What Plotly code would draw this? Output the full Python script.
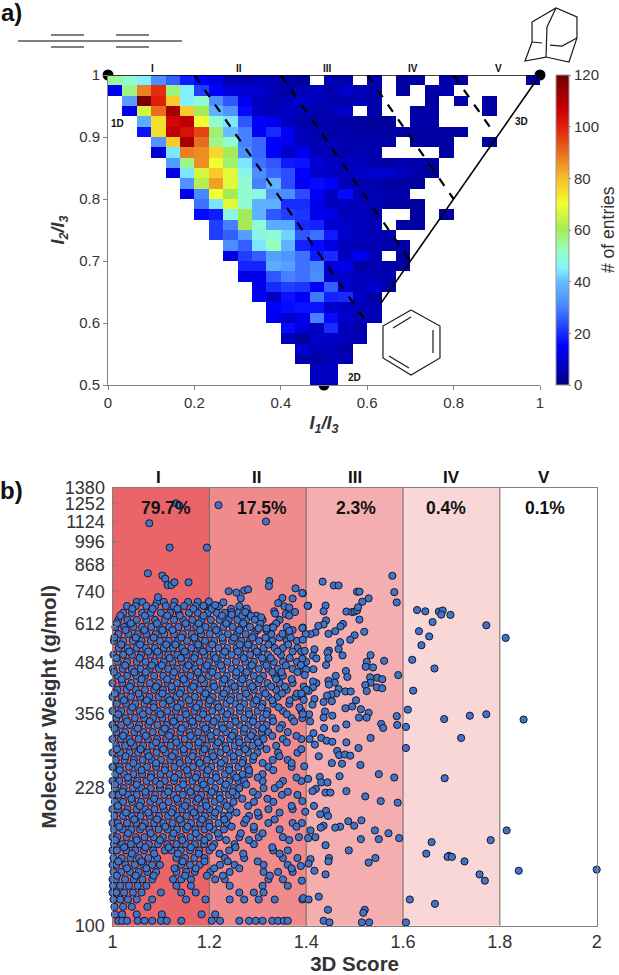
"""
plot.py - PMI triangle heat map (a) and 3D score vs molecular weight scatter (b).
"""

import plotly.graph_objects as go

W, H = 619, 975
N = None

# --- panel a data: entries per bin, top row first, 30 x 30 bins ---
heat_rows = [
    [55, 50, 45, 32, 26, 18, 15, 12, 5, 5, 7, 6, 4, 3, N, 6, 5, N, 6, N, 3, 4, N, 5, 4, N, N, N, N, 3],
    [14, 56, 88, 98, 57, 45, 22, 15, 11, 10, 9, 6, 4, 6, 7, 5, 9, 6, 5, N, 4, N, 4, 5],
    [N, 35, 118, 100, 78, 45, 50, 32, 25, 13, 7, 6, 7, 9, 7, 5, 5, 6, 5, N, N, N, 4, N, 5, N, 4],
    [N, 13, 66, 90, 112, 78, 60, 38, 33, 16, 8, 6, 9, 6, 5, 6, 9, N, 5, N, N, 4, 5, N, N, N, 4],
    [N, N, 37, 75, 105, 108, 70, 50, 44, 25, 15, 13, 7, 5, 5, 5, 4, 4, 3, 3, N, 5, 4],
    [N, N, 17, 75, 108, 103, 95, 58, 40, 30, 14, 20, 14, 7, 5, 4, 5, 4, 4, 4, 4, 4, 4, 4, 4],
    [N, N, N, 33, 78, 112, 90, 56, 50, 30, 27, 15, 13, 7, 6, 6, 5, 5, 5, 5, N, 5, 4, 4, N, N, 4],
    [N, N, N, 10, 44, 88, 86, 76, 60, 32, 27, 15, 8, 13, 7, 6, 5, 6, 5, N, N, N, N, 4],
    [N, N, N, N, 34, 56, 86, 70, 58, 44, 28, 25, 18, 17, 10, 8, 7, 7, 5, 4, 5, 5, 4],
    [N, N, N, N, 12, 44, 66, 78, 68, 48, 32, 27, 24, 15, 9, 8, 7, 8, 10, 9, 7, 5, 3],
    [N, N, N, N, N, 33, 62, 84, 68, 50, 30, 38, 24, 14, 16, 15, 6, 6, 5, 4, 4, 3],
    [N, N, N, N, N, 13, 31, 70, 60, 50, 48, 33, 32, 24, 14, 8, 16, 6, 6, 5, 5],
    [N, N, N, N, N, N, 28, 44, 68, 50, 38, 38, 20, 20, 13, 8, 8, 7, 6, 4, 4, 3],
    [N, N, N, N, N, N, 16, 18, 48, 60, 38, 25, 22, 21, 13, 12, 7, 7, 5, N, N, 4, N, 4],
    [N, N, N, N, N, N, N, 22, 30, 60, 50, 37, 37, 20, 19, 9, 9, 7, 6, N, 4, 4],
    [N, N, N, N, N, N, N, 22, 26, 35, 47, 50, 42, 25, 28, 18, 9, 7, 6, 5],
    [N, N, N, N, N, N, N, N, 32, 26, 44, 52, 38, 19, 16, 12, 7, 6, 6, 5, 4],
    [N, N, N, N, N, N, N, N, 12, 22, 26, 35, 33, 28, 18, 20, 8, 14, 7, N, 4],
    [N, N, N, N, N, N, N, N, N, 19, 19, 37, 35, 28, 31, 10, 13, 4, 6, 5, 4],
    [N, N, N, N, N, N, N, N, N, 13, 12, 25, 30, 28, 32, 9, 9, 7, 6, 5],
    [N, N, N, N, N, N, N, N, N, N, 13, 20, 22, 21, 15, 26, 10, 7, 9, 5],
    [N, N, N, N, N, N, N, N, N, N, 15, 8, 17, 14, 29, 19, 20, 8, 4],
    [N, N, N, N, N, N, N, N, N, N, N, 15, 16, 17, 17, 9, 8, 6, 6],
    [N, N, N, N, N, N, N, N, N, N, N, 13, 9, 12, 30, 16, 9, 6, 6],
    [N, N, N, N, N, N, N, N, N, N, N, N, 16, 11, 8, 20, 7, 5],
    [N, N, N, N, N, N, N, N, N, N, N, N, 6, 3, 9, 8, 7, 6],
    [N, N, N, N, N, N, N, N, N, N, N, N, N, 10, 7, 7, 4],
    [N, N, N, N, N, N, N, N, N, N, N, N, N, 5, 4, 6, 6],
    [N, N, N, N, N, N, N, N, N, N, N, N, N, N, 8, 8],
    [N, N, N, N, N, N, N, N, N, N, N, N, N, N, 8, 8],
]
jet_scale = [
    [0.0, "rgb(0,0,130)"], [0.125, "rgb(0,0,255)"], [0.25, "rgb(70,130,255)"],
    [0.333, "rgb(100,190,255)"], [0.375, "rgb(130,240,255)"], [0.433, "rgb(150,255,190)"],
    [0.5, "rgb(165,235,85)"], [0.583, "rgb(240,255,50)"], [0.667, "rgb(250,190,40)"],
    [0.75, "rgb(230,110,30)"], [0.833, "rgb(225,30,10)"], [0.89, "rgb(200,0,0)"],
    [1.0, "rgb(110,0,0)"],
]
vertex_x = [0, 1, 0.5]
vertex_y = [1, 1, 0.5]
rod_sphere_x = [1, 0.63]
rod_sphere_y = [1, 0.63]
class_lines_x = [[0.2, 0.6], [0.4, 0.7], [0.6, 0.8], [0.8, 0.885]]
class_lines_y = [[1.0, 0.6], [1.0, 0.7], [1.0, 0.8], [1.0, 0.915]]

# --- panel b data ---
band_edges = [1.0, 1.2, 1.4, 1.6, 1.8, 2.0]
band_colors = ["#E96569", "#F08B8D", "#F5AEAF", "#F9D7D7", "#FFFFFF"]
band_names = ["I", "II", "III", "IV", "V"]
band_shares = ["79.7%", "17.5%", "2.3%", "0.4%", "0.1%"]
weight_ticks = [100, 228, 356, 484, 612, 740, 868, 996, 1124, 1252, 1380]
weight_minor = [200, 300, 400, 500, 600, 700, 800, 900, 1000]

# the dense cloud: one list of scores for each molecular weight
cloud_weights = [
    696, 679, 652, 625, 599, 574, 551, 528, 507, 486, 466, 447, 428, 411, 394, 378,
    362, 347, 333, 319, 306, 294, 282, 270, 259, 248, 238, 228, 219, 210, 201, 193,
    185, 178, 170, 163, 157, 150, 144, 138, 132, 127, 122, 117, 112, 107, 103,
]
cloud_scores = [
    [1.05, 1.062, 1.092, 1.106, 1.128, 1.156, 1.176],
    [1.03, 1.048, 1.07, 1.088, 1.11, 1.126, 1.148, 1.172, 1.19, 1.22, 1.262],
    [1.022, 1.04, 1.061, 1.079, 1.1, 1.119, 1.137, 1.158, 1.176, 1.197, 1.215, 1.232, 1.26, 1.28],
    [1.012, 1.031, 1.05, 1.07, 1.088, 1.108, 1.127, 1.146, 1.165, 1.184, 1.203, 1.221, 1.24, 1.258, 1.276, 1.31, 1.345],
    [1.006, 1.024, 1.043, 1.061, 1.08, 1.098, 1.117, 1.136, 1.155, 1.173, 1.192, 1.21, 1.229, 1.248, 1.266, 1.284, 1.33, 1.36],
    [1.012, 1.033, 1.052, 1.07, 1.089, 1.107, 1.127, 1.145, 1.164, 1.183, 1.201, 1.22, 1.238, 1.257, 1.275, 1.293, 1.328, 1.352],
    [1.003, 1.022, 1.042, 1.06, 1.079, 1.098, 1.116, 1.135, 1.154, 1.172, 1.191, 1.21, 1.228, 1.247, 1.266, 1.284, 1.303, 1.33, 1.36, 1.381],
    [1.013, 1.031, 1.05, 1.069, 1.088, 1.106, 1.125, 1.144, 1.163, 1.181, 1.2, 1.219, 1.237, 1.256, 1.275, 1.293, 1.312, 1.335, 1.352, 1.382],
    [1.002, 1.022, 1.04, 1.059, 1.078, 1.097, 1.115, 1.134, 1.153, 1.171, 1.19, 1.209, 1.228, 1.246, 1.265, 1.284, 1.302, 1.321, 1.348],
    [1.011, 1.03, 1.05, 1.068, 1.087, 1.106, 1.124, 1.143, 1.162, 1.18, 1.199, 1.218, 1.237, 1.255, 1.274, 1.292, 1.312, 1.333, 1.352, 1.381, 1.4],
    [1.001, 1.021, 1.04, 1.058, 1.077, 1.096, 1.115, 1.133, 1.152, 1.171, 1.19, 1.208, 1.227, 1.246, 1.264, 1.283, 1.302, 1.322, 1.341, 1.372, 1.394],
    [1.01, 1.03, 1.049, 1.067, 1.086, 1.105, 1.124, 1.143, 1.161, 1.18, 1.199, 1.217, 1.236, 1.255, 1.273, 1.292, 1.311, 1.335, 1.352],
    [1.0, 1.02, 1.039, 1.058, 1.077, 1.095, 1.114, 1.133, 1.152, 1.17, 1.189, 1.208, 1.227, 1.245, 1.264, 1.283, 1.301, 1.32, 1.345, 1.372],
    [1.01, 1.029, 1.048, 1.067, 1.086, 1.104, 1.123, 1.142, 1.161, 1.18, 1.198, 1.217, 1.236, 1.254, 1.273, 1.292, 1.311, 1.338, 1.36],
    [1.0, 1.019, 1.038, 1.057, 1.076, 1.095, 1.113, 1.132, 1.151, 1.17, 1.188, 1.207, 1.226, 1.245, 1.263, 1.282, 1.301, 1.322, 1.341, 1.378, 1.392],
    [1.009, 1.028, 1.047, 1.066, 1.085, 1.104, 1.122, 1.141, 1.16, 1.179, 1.198, 1.216, 1.235, 1.254, 1.272, 1.291, 1.31, 1.332, 1.365],
    [1.0, 1.018, 1.037, 1.056, 1.075, 1.094, 1.113, 1.131, 1.15, 1.169, 1.188, 1.206, 1.225, 1.244, 1.263, 1.281, 1.3, 1.32, 1.352, 1.39],
    [1.008, 1.027, 1.046, 1.065, 1.084, 1.103, 1.122, 1.14, 1.159, 1.178, 1.197, 1.216, 1.234, 1.253, 1.272, 1.291, 1.31, 1.33, 1.37, 1.392],
    [1.0, 1.018, 1.036, 1.055, 1.074, 1.093, 1.112, 1.131, 1.15, 1.168, 1.187, 1.206, 1.225, 1.243, 1.262, 1.281, 1.3, 1.318, 1.35],
    [1.008, 1.026, 1.045, 1.064, 1.083, 1.102, 1.121, 1.14, 1.159, 1.177, 1.196, 1.215, 1.234, 1.252, 1.271, 1.29, 1.308, 1.322, 1.362],
    [1.0, 1.017, 1.035, 1.054, 1.073, 1.092, 1.111, 1.13, 1.149, 1.168, 1.186, 1.205, 1.224, 1.243, 1.261, 1.28, 1.298, 1.312, 1.352, 1.39],
    [1.007, 1.026, 1.044, 1.063, 1.082, 1.101, 1.12, 1.139, 1.158, 1.177, 1.195, 1.214, 1.233, 1.252, 1.27, 1.289, 1.305, 1.338],
    [1.0, 1.016, 1.035, 1.053, 1.072, 1.091, 1.11, 1.129, 1.148, 1.167, 1.186, 1.205, 1.223, 1.242, 1.261, 1.28, 1.299, 1.342, 1.382],
    [1.007, 1.025, 1.044, 1.062, 1.081, 1.1, 1.119, 1.138, 1.157, 1.176, 1.195, 1.213, 1.232, 1.251, 1.27, 1.29, 1.331, 1.362],
    [1.0, 1.015, 1.034, 1.052, 1.071, 1.09, 1.109, 1.128, 1.147, 1.166, 1.185, 1.204, 1.223, 1.241, 1.26, 1.279, 1.322, 1.37],
    [1.006, 1.024, 1.043, 1.061, 1.08, 1.099, 1.118, 1.137, 1.156, 1.175, 1.194, 1.213, 1.232, 1.25, 1.269, 1.282, 1.31],
    [1.0, 1.014, 1.033, 1.051, 1.07, 1.089, 1.108, 1.127, 1.146, 1.165, 1.184, 1.203, 1.222, 1.241, 1.26, 1.272, 1.31, 1.352, 1.39],
    [1.005, 1.023, 1.042, 1.06, 1.079, 1.098, 1.117, 1.136, 1.155, 1.174, 1.193, 1.212, 1.231, 1.25, 1.262, 1.312, 1.335],
    [1.0, 1.013, 1.032, 1.05, 1.069, 1.088, 1.107, 1.126, 1.145, 1.164, 1.183, 1.202, 1.221, 1.24, 1.256, 1.3, 1.35, 1.382],
    [1.005, 1.022, 1.041, 1.059, 1.078, 1.097, 1.116, 1.135, 1.154, 1.173, 1.192, 1.211, 1.23, 1.25, 1.292, 1.332],
    [1.0, 1.012, 1.031, 1.05, 1.068, 1.087, 1.106, 1.125, 1.144, 1.163, 1.182, 1.201, 1.22, 1.243, 1.322, 1.372],
    [1.004, 1.022, 1.04, 1.058, 1.077, 1.096, 1.115, 1.134, 1.153, 1.172, 1.191, 1.21, 1.23, 1.24, 1.282, 1.302],
    [1.0, 1.011, 1.03, 1.049, 1.067, 1.086, 1.105, 1.124, 1.143, 1.162, 1.181, 1.2, 1.219, 1.236, 1.272, 1.322, 1.372, 1.391],
    [1.003, 1.021, 1.039, 1.057, 1.076, 1.095, 1.114, 1.133, 1.152, 1.171, 1.19, 1.209, 1.23, 1.292, 1.345],
    [1.0, 1.01, 1.029, 1.048, 1.066, 1.085, 1.104, 1.123, 1.142, 1.161, 1.18, 1.199, 1.22, 1.262, 1.302, 1.352, 1.385],
    [1.003, 1.02, 1.038, 1.056, 1.075, 1.094, 1.113, 1.132, 1.151, 1.17, 1.189, 1.21, 1.252, 1.292],
    [1.0, 1.009, 1.028, 1.047, 1.065, 1.084, 1.108, 1.122, 1.141, 1.16, 1.179, 1.2, 1.241, 1.332, 1.362],
    [1.002, 1.019, 1.037, 1.055, 1.074, 1.092, 1.132, 1.15, 1.169, 1.19, 1.232, 1.272, 1.352, 1.382],
    [1.0, 1.008, 1.027, 1.046, 1.064, 1.082, 1.098, 1.142, 1.16, 1.18, 1.222, 1.252, 1.312, 1.362],
    [1.002, 1.018, 1.036, 1.054, 1.072, 1.09, 1.132, 1.152, 1.17, 1.202, 1.242, 1.312, 1.342, 1.372],
    [1.0, 1.007, 1.026, 1.044, 1.062, 1.082, 1.125, 1.142, 1.162, 1.212, 1.232, 1.322, 1.352],
    [1.001, 1.016, 1.034, 1.052, 1.07, 1.132, 1.162, 1.242, 1.31, 1.362],
    [1.0, 1.008, 1.024, 1.042, 1.06, 1.1, 1.142, 1.172, 1.262, 1.292, 1.312],
    [1.002, 1.016, 1.032, 1.05, 1.082, 1.152, 1.192, 1.242, 1.272, 1.302, 1.335, 1.392],
    [1.004, 1.022, 1.04, 1.072],
    [1.005, 1.02, 1.05, 1.102, 1.184, 1.212],
    [1.012, 1.02, 1.03, 1.052, 1.066, 1.082, 1.1, 1.112, 1.142, 1.205, 1.222, 1.262, 1.282, 1.296, 1.31, 1.33, 1.342, 1.354, 1.362],
]

# second pass over the cloud, drawn on top, less even than the first
over_weights = [
    668, 641, 612, 588, 562, 539, 517, 497, 476, 457, 438, 419, 402, 386, 370, 355,
    340, 326, 312, 300, 288, 276, 265, 254, 243, 233, 223, 214, 205, 197, 189, 181,
    174, 167, 160, 154, 147, 141, 135,
]
over_scores = [
    [1.041, 1.083, 1.134, 1.167, 1.205, 1.245],
    [1.016, 1.067, 1.113, 1.139, 1.188, 1.226, 1.268, 1.297],
    [1.009, 1.038, 1.092, 1.151, 1.178, 1.235, 1.27, 1.305, 1.338],
    [1.027, 1.066, 1.103, 1.124, 1.181, 1.214, 1.262, 1.299, 1.318, 1.372],
    [1.004, 1.048, 1.085, 1.142, 1.169, 1.227, 1.251, 1.289, 1.316, 1.345, 1.368],
    [1.018, 1.057, 1.111, 1.13, 1.177, 1.206, 1.263, 1.28, 1.322, 1.363],
    [1.035, 1.074, 1.093, 1.149, 1.187, 1.232, 1.259, 1.298, 1.341, 1.372, 1.39],
    [1.008, 1.056, 1.118, 1.141, 1.169, 1.213, 1.271, 1.309, 1.327, 1.366],
    [1.026, 1.081, 1.102, 1.157, 1.195, 1.224, 1.288, 1.318, 1.358, 1.39],
    [1.003, 1.045, 1.069, 1.127, 1.176, 1.206, 1.256, 1.277, 1.33, 1.349, 1.382],
    [1.019, 1.06, 1.113, 1.147, 1.184, 1.231, 1.268, 1.304, 1.338, 1.37],
    [1.036, 1.09, 1.122, 1.167, 1.21, 1.252, 1.289, 1.328, 1.356, 1.395],
    [1.005, 1.054, 1.103, 1.139, 1.192, 1.23, 1.276, 1.316, 1.35, 1.381],
    [1.024, 1.071, 1.118, 1.158, 1.201, 1.243, 1.297, 1.33, 1.366],
    [1.041, 1.085, 1.134, 1.173, 1.219, 1.263, 1.308, 1.343, 1.386],
    [1.012, 1.063, 1.099, 1.152, 1.187, 1.237, 1.282, 1.318, 1.36],
    [1.03, 1.077, 1.126, 1.165, 1.209, 1.254, 1.29, 1.332, 1.375],
    [1.004, 1.052, 1.108, 1.143, 1.192, 1.228, 1.273, 1.31, 1.345],
    [1.022, 1.069, 1.117, 1.161, 1.203, 1.247, 1.286, 1.33, 1.38],
    [1.038, 1.09, 1.132, 1.178, 1.218, 1.262, 1.301, 1.36],
    [1.009, 1.058, 1.105, 1.147, 1.19, 1.235, 1.274, 1.318, 1.39],
    [1.027, 1.075, 1.123, 1.165, 1.208, 1.25, 1.292, 1.345],
    [1.043, 1.09, 1.139, 1.18, 1.224, 1.268, 1.31, 1.37],
    [1.015, 1.06, 1.108, 1.154, 1.197, 1.241, 1.282, 1.332],
    [1.032, 1.079, 1.128, 1.172, 1.214, 1.256, 1.3, 1.38],
    [1.005, 1.05, 1.098, 1.146, 1.188, 1.234, 1.276, 1.345],
    [1.021, 1.068, 1.115, 1.161, 1.205, 1.248, 1.29, 1.362],
    [1.039, 1.086, 1.133, 1.177, 1.222, 1.268, 1.32],
    [1.011, 1.056, 1.104, 1.15, 1.194, 1.236, 1.28, 1.37],
    [1.028, 1.074, 1.122, 1.168, 1.212, 1.256, 1.3, 1.345],
    [1.045, 1.092, 1.139, 1.185, 1.231, 1.276, 1.335],
    [1.014, 1.062, 1.109, 1.155, 1.2, 1.246, 1.292, 1.38],
    [1.032, 1.079, 1.126, 1.172, 1.218, 1.265, 1.31],
    [1.006, 1.05, 1.098, 1.144, 1.19, 1.235, 1.282, 1.365],
    [1.024, 1.068, 1.116, 1.162, 1.206, 1.254, 1.33],
    [1.04, 1.086, 1.135, 1.178, 1.221, 1.27, 1.345],
    [1.012, 1.06, 1.145, 1.19, 1.238, 1.3],
    [1.03, 1.07, 1.128, 1.172, 1.21, 1.262, 1.37],
    [1.009, 1.048, 1.085, 1.15, 1.195, 1.228, 1.325],
]

# single points that stand clear of the cloud
outlier_scores = [
    1.131, 1.138, 1.219, 1.076, 1.317, 1.118, 1.195, 1.073, 1.103, 1.109, 1.114, 1.122, 1.128, 1.157, 1.324, 1.323, 1.094,
    1.24, 1.256, 1.265, 1.272, 1.28, 1.378, 1.393, 1.351, 1.372, 1.342, 1.404, 1.355, 1.365, 1.334, 1.336, 1.377, 1.358, 1.365,
    1.229, 1.212, 1.199, 1.188, 1.246, 1.246, 1.277, 1.274, 1.286, 1.307, 1.294, 1.318, 1.302, 1.332, 1.393, 1.365, 1.351,
    1.578, 1.434, 1.457, 1.467, 1.505, 1.51, 1.582, 1.529, 1.516, 1.587, 1.392, 1.403, 1.44, 1.436, 1.483, 1.495, 1.5, 1.505,
    1.507, 1.51, 1.441, 1.436, 1.425, 1.476, 1.471, 1.52, 1.46, 1.446, 1.419, 1.409, 1.399, 1.392, 1.5, 1.491, 1.47, 1.393,
    1.467, 1.417, 1.397, 1.447, 1.444, 1.475, 1.533, 1.414, 1.421, 1.446, 1.392, 1.525, 1.561, 1.441, 1.523, 1.538, 1.415,
    1.4, 1.389, 1.482, 1.59, 1.485, 1.461, 1.532, 1.547, 1.557, 1.397, 1.446, 1.459, 1.533, 1.421, 1.447, 1.414, 1.522, 1.546,
    1.557, 1.467, 1.414, 1.525, 1.481, 1.492, 1.405, 1.4, 1.462, 1.452, 1.443, 1.39, 1.417, 1.395, 1.503, 1.453, 1.436, 1.413,
    1.495, 1.481, 1.513, 1.439, 1.529, 1.454, 1.406, 1.587, 1.509, 1.525, 1.436, 1.393, 1.408,
    1.555, 1.559, 1.588, 1.606, 1.606, 1.483, 1.461, 1.437, 1.415, 1.431, 1.442, 1.454, 1.483, 1.533, 1.508, 1.418, 1.407,
    1.464, 1.468, 1.48, 1.491, 1.426, 1.453, 1.474, 1.512, 1.396, 1.55, 1.582, 1.469, 1.428, 1.404, 1.431, 1.444, 1.483, 1.42,
    1.413, 1.44, 1.45, 1.522, 1.554, 1.589, 1.392, 1.416, 1.441, 1.429, 1.445, 1.398, 1.514, 1.487, 1.499, 1.47, 1.46, 1.436,
    1.43, 1.409, 1.542, 1.57, 1.55, 1.592, 1.513, 1.419, 1.404, 1.44, 1.488, 1.543, 1.529, 1.409, 1.447, 1.446, 1.405, 1.389,
    1.417, 1.44, 1.391, 1.426, 1.394, 1.405, 1.445, 1.521, 1.518, 1.436, 1.448, 1.515, 1.53, 1.606,
    1.629, 1.646, 1.674, 1.682, 1.679, 1.698, 1.661, 1.772, 1.633, 1.654, 1.638, 1.619, 1.665, 1.621, 1.61, 1.685, 1.738,
    1.772, 1.812, 1.849, 1.72, 1.686, 1.814, 1.781, 1.659, 1.648, 1.695, 1.692, 1.701, 1.727, 1.758, 1.769, 1.839, 2.0, 1.614, 1.666,
]
outlier_weights = [
    1257, 1240, 1243, 1115, 1127, 964, 964, 826, 815, 800, 770, 770, 783, 783, 789, 765, 716,
    742, 736, 711, 745, 750, 755, 733, 713, 710, 691, 680, 678, 673, 658, 649, 655, 647, 641,
    694, 683, 698, 680, 655, 645, 669, 655, 640, 635, 626, 594, 594, 597, 597, 585, 575,
    814, 786, 768, 768, 740, 740, 738, 711, 697, 694, 734, 680, 681, 658, 657, 655, 657, 661,
    674, 626, 623, 608, 603, 610, 601, 582, 584, 575, 580, 574, 574, 595, 570, 555, 547, 555,
    525, 524, 519, 520, 514, 505, 506, 504, 496, 497, 495, 486, 489, 477, 472, 470, 465,
    464, 477, 460, 449, 444, 447, 443, 442, 438, 449, 434, 429, 429, 428, 424, 432, 423, 417,
    415, 413, 417, 408, 407, 407, 408, 411, 402, 400, 397, 402, 389, 387, 386, 384, 382, 376,
    372, 368, 366, 361, 358, 352, 355, 351, 348, 348, 348, 355, 340,
    335, 327, 333, 329, 290, 334, 326, 327, 317, 308, 303, 301, 300, 308, 290, 296, 306,
    285, 278, 279, 277, 276, 265, 264, 262, 260, 248, 243, 245, 244, 241, 236, 236, 224, 227,
    224, 222, 222, 217, 211, 209, 211, 205, 199, 195, 193, 198, 188, 187, 182, 181, 180, 182,
    180, 177, 177, 174, 168, 169, 168, 170, 169, 162, 157, 150, 146, 149, 150, 147, 145, 143,
    139, 136, 131, 119, 118, 117, 110, 110, 108, 103, 102, 102, 102, 102,
    663, 658, 657, 661, 645, 644, 617, 605, 584, 566, 537, 492, 467, 409, 365, 345, 352,
    355, 561, 344, 308, 242, 177, 167, 165, 154, 152, 151, 151, 147, 136, 131, 139, 140, 117, 114,
]

cloud_x = [s for row in cloud_scores for s in row]
cloud_y = [w for w, row in zip(cloud_weights, cloud_scores) for _ in row]
over_x = [s for row in over_scores for s in row]
over_y = [w for w, row in zip(over_weights, over_scores) for _ in row]


def px(x):
    return x / W


def py(y):
    return 1 - y / H


def polyline(points, color="#1a1a1a", width=1.2):
    path = "M " + " L ".join(f"{px(x):.4f},{py(y):.4f}" for x, y in points)
    return dict(type="path", xref="paper", yref="paper", path=path,
                line=dict(color=color, width=width))


def label(text, x, y, size, bold=True, color="#111", **kw):
    return dict(text=f"<b>{text}</b>" if bold else text, x=px(x), y=py(y), xref="paper", yref="paper",
                showarrow=False, xanchor="center", yanchor="middle",
                font=dict(family="Liberation Sans", size=size, color=color), **kw)


fig = go.Figure()

# vertices sit on the base axes so that the heat map covers part of them
fig.add_trace(go.Scatter(x=vertex_x, y=vertex_y, mode="markers", cliponaxis=False,
                         marker=dict(color="black", size=11), showlegend=False))
fig.add_trace(go.Heatmap(
    z=[r + [None] * (30 - len(r)) for r in reversed(heat_rows)],
    x0=1 / 60, dx=1 / 30, y0=0.5 + 1 / 120, dy=1 / 60,
    zmin=0, zmax=120, colorscale=jet_scale, xaxis="x3", yaxis="y3", hoverongaps=False,
    colorbar=dict(
        x=px(556), xanchor="left", y=py(385), yanchor="bottom",
        thickness=13, thicknessmode="pixels", len=310 / H, lenmode="fraction",
        xpad=0, ypad=0, outlinecolor="#999", outlinewidth=1,
        tickvals=[0, 20, 40, 60, 80, 100, 120], ticks="outside", ticklen=2, tickcolor="#888",
        tickfont=dict(family="Liberation Sans", size=15, color="#333"),
    ),
))
fig.add_trace(go.Scatter(x=[0, 1], y=[1, 1], mode="lines", xaxis="x3", yaxis="y3", cliponaxis=False,
                         line=dict(color="black", width=1.6), showlegend=False))
fig.add_trace(go.Scatter(x=rod_sphere_x, y=rod_sphere_y, mode="lines", xaxis="x3", yaxis="y3",
                         line=dict(color="black", width=1.6), showlegend=False))
for lx, ly in zip(class_lines_x, class_lines_y):
    fig.add_trace(go.Scatter(x=lx, y=ly, mode="lines", xaxis="x3", yaxis="y3",
                             line=dict(color="black", width=2.2, dash="9px,9px"), showlegend=False))

fig.add_trace(go.Scatter(
    x=cloud_x + over_x + outlier_scores, y=cloud_y + over_y + outlier_weights, mode="markers",
    xaxis="x2", yaxis="y2", cliponaxis=False, showlegend=False,
    marker=dict(color="#4473C5", size=7.2, line=dict(color="#111a2e", width=1)),
))

shapes = []
for i, c in enumerate(band_colors):
    shapes.append(dict(type="rect", xref="x2", yref="y2 domain", x0=band_edges[i], x1=band_edges[i + 1],
                       y0=0, y1=1, fillcolor=c, line=dict(width=0), layer="below"))
for e in band_edges[1:-1]:
    shapes.append(dict(type="line", xref="x2", yref="y2 domain", x0=e, x1=e, y0=0, y1=1,
                       line=dict(color="#6e6464", width=1), layer="below"))

# energy level sketch above panel a
shapes.append(polyline([(18, 41), (182, 41)], "#555", 1.5))
for lx0, lx1 in [(51, 84), (116, 149)]:
    shapes.append(polyline([(lx0, 35), (lx1, 35)], "#555", 1.5))
    shapes.append(polyline([(lx0, 47), (lx1, 47)], "#555", 1.5))

# adamantane
shapes.append(polyline([(532, 22), (556, 8), (577, 17), (577, 38), (569, 62), (546, 57), (525, 61), (532, 42), (532, 22)]))
shapes.append(polyline([(556, 8), (547, 27), (546, 57)]))
shapes.append(polyline([(532, 42), (542, 43)]))
shapes.append(polyline([(550, 45), (562, 46), (577, 38)]))

# benzene
shapes.append(polyline([(411, 310), (440, 326), (440, 358), (411, 375), (383, 358), (383, 326), (411, 310)]))
shapes.append(polyline([(393, 328), (411, 317)]))
shapes.append(polyline([(433, 330), (433, 353)]))
shapes.append(polyline([(389, 356), (409, 368)]))

annotations = [
    label("a)", 11, 13, 24), label("b)", 11, 490, 24),
    label("1D", 117, 123, 10), label("3D", 521, 122, 10), label("2D", 354, 377, 10),
    label("# of entries", 608, 230, 17.5, bold=False, color="#333", textangle=-90),
]
for name, x in zip(band_names, [152, 239, 327, 413, 498]):
    annotations.append(label(name, x, 68, 10))
for name, x in zip(band_names, [158, 256, 355, 451, 544]):
    annotations.append(label(name, x, 478, 17))
for share, x in zip(band_shares, [166, 262, 356, 446, 545]):
    annotations.append(label(share, x, 508, 17.5))

tick_font_a = dict(family="Liberation Sans", size=15, color="#333")
tick_font_b = dict(family="Liberation Sans", size=18, color="#333")
title_font_a = dict(family="Liberation Sans", size=18, color="#333")
title_font_b = dict(family="Liberation Sans", size=20.5, color="#333")

fig.update_layout(
    width=W, height=H, autosize=False, margin=dict(l=0, r=0, t=0, b=0),
    paper_bgcolor="white", plot_bgcolor="rgba(0,0,0,0)", showlegend=False,
    shapes=shapes, annotations=annotations,
    xaxis=dict(domain=[px(108), px(540)], anchor="y", range=[0, 1], tickvals=[0, 0.2, 0.4, 0.6, 0.8, 1],
               ticktext=["0", "0.2", "0.4", "0.6", "0.8", "1"], ticks="outside", ticklen=4, showgrid=False,
               zeroline=False, showline=True, linecolor="#808080", tickcolor="#808080", tickfont=tick_font_a,
               automargin=False,
               title=dict(text="<b><i>I<sub>1</sub>/I<sub>3</sub></i></b>", font=title_font_a, standoff=6)),
    yaxis=dict(domain=[py(385), py(75)], anchor="x", range=[0.5, 1], tickvals=[0.5, 0.6, 0.7, 0.8, 0.9, 1],
               ticktext=["0.5", "0.6", "0.7", "0.8", "0.9", "1"], ticks="outside", ticklen=4, showgrid=False,
               zeroline=False, showline=True, linecolor="#808080", tickcolor="#808080", tickfont=tick_font_a,
               automargin=False,
               title=dict(text="<b><i>I<sub>2</sub>/I<sub>3</sub></i></b>", font=title_font_a, standoff=9)),
    xaxis3=dict(domain=[px(108), px(540)], anchor="y3", overlaying="x", range=[0, 1], visible=False, automargin=False),
    yaxis3=dict(domain=[py(385), py(75)], anchor="x3", overlaying="y", range=[0.5, 1], visible=False, automargin=False),
    xaxis2=dict(domain=[px(112.5), px(596.7)], anchor="y2", range=[1, 2], tickvals=band_edges,
                ticktext=["1", "1.2", "1.4", "1.6", "1.8", "2"], showgrid=False, zeroline=False,
                showline=True, mirror=True, linecolor="#808080", ticks="", tickfont=tick_font_b, automargin=False,
                title=dict(text="<b>3D Score</b>", font=title_font_b, standoff=8)),
    yaxis2=dict(domain=[py(925.7), py(487.7)], anchor="x2", type="log", range=[2, 3.13988],
                tickvals=weight_ticks, ticktext=[str(t) for t in weight_ticks], showgrid=False, zeroline=False,
                showline=True, mirror=True, linecolor="#808080", tickcolor="#808080", ticks="inside", ticklen=4,
                tickfont=tick_font_b, automargin=False, ticklabelstandoff=3,
                minor=dict(tickvals=weight_minor, ticks="inside", ticklen=3, tickcolor="#808080"),
                title=dict(text="<b>Molecular Weight (g/mol)</b>", font=title_font_b, standoff=2)),
)

fig.write_html("out.html", config={"displayModeBar": False}, post_script="document.body.style.margin='0';")
